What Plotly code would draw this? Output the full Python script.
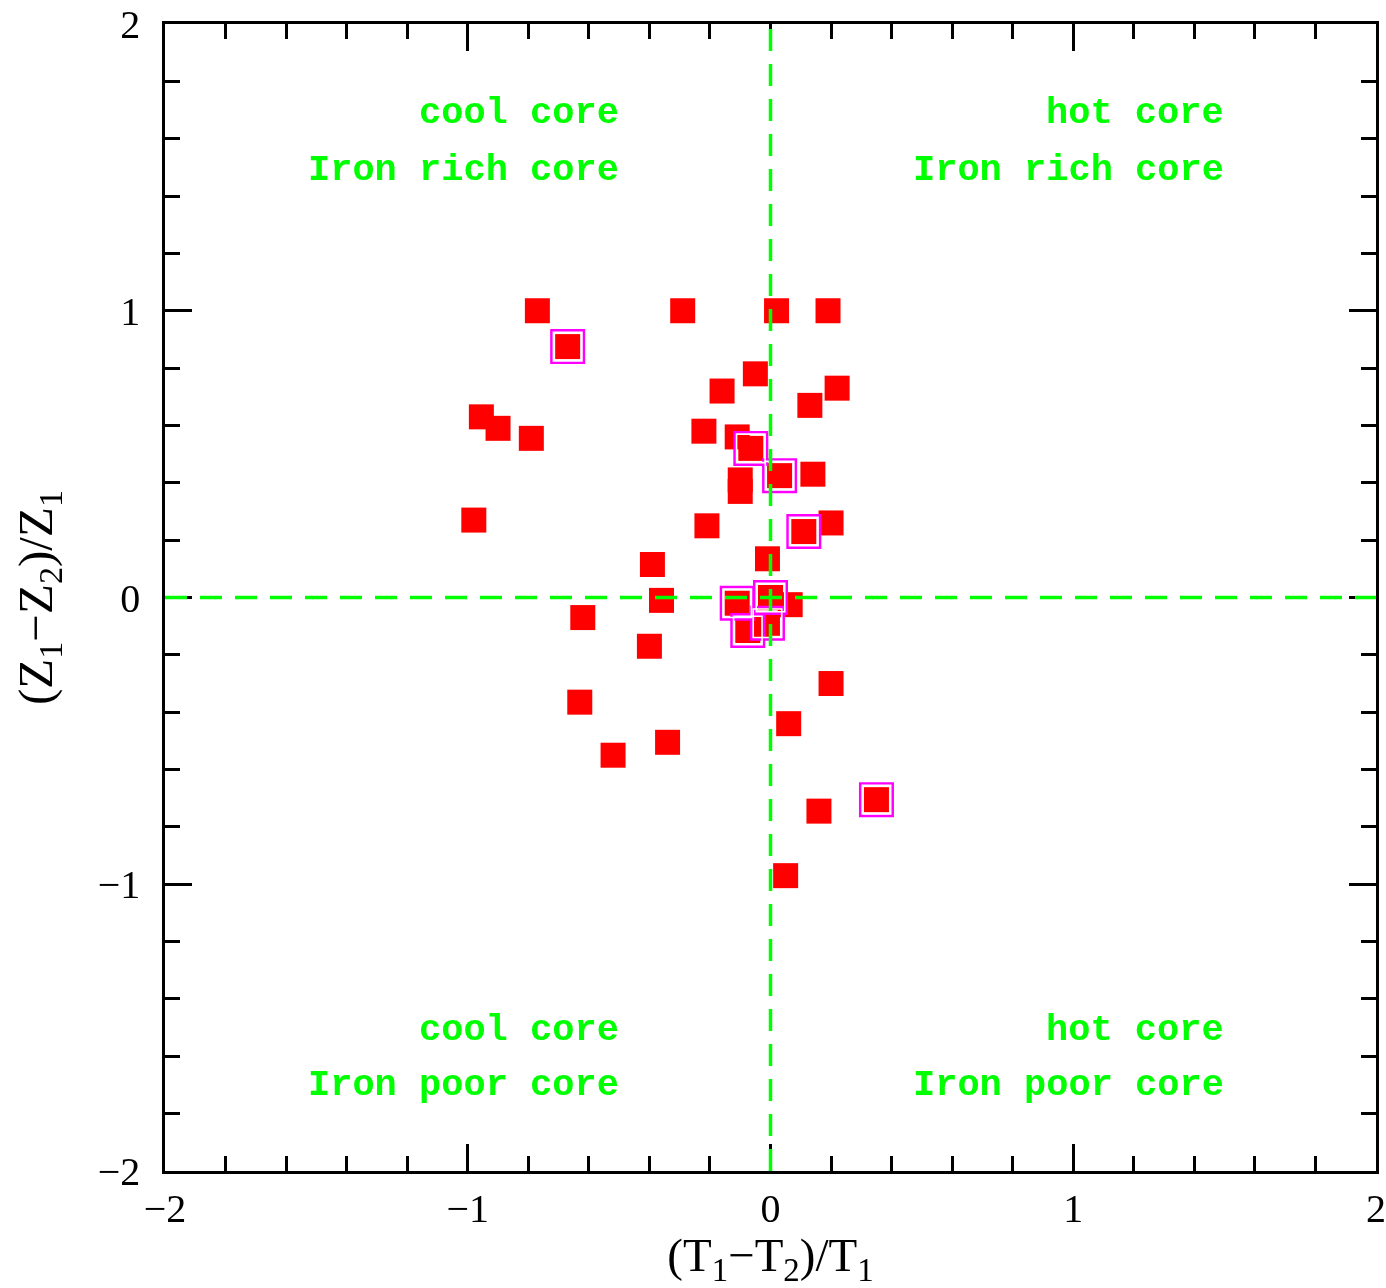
import plotly.graph_objects as go

# ---- data ----
red_x = [-0.77, -0.29, 0.02, 0.19, -0.67, -0.05, -0.16, 0.22, 0.13, -0.955,
         -0.90, -0.79, -0.22, -0.11, -0.065, 0.03, 0.14, -0.10, -0.10, -0.98,
         -0.21, 0.11, 0.20, -0.01, -0.39, -0.36, -0.62, -0.40, -0.63, -0.52,
         -0.34, 0.20, 0.06, 0.16, 0.35, 0.05, 0.0, -0.11, 0.065, -0.075,
         -0.04, -0.01]
red_y = [1.00, 1.00, 1.00, 1.00, 0.875, 0.78, 0.72, 0.73, 0.67, 0.63,
         0.59, 0.555, 0.58, 0.56, 0.52, 0.425, 0.43, 0.41, 0.37, 0.27,
         0.25, 0.23, 0.26, 0.135, 0.115, -0.01, -0.07, -0.17, -0.365, -0.55,
         -0.505, -0.30, -0.44, -0.745, -0.705, -0.97, 0.0, -0.02, -0.025, -0.115,
         -0.10, -0.09]

mag_x = [-0.67, -0.065, 0.03, 0.11, 0.0, -0.11, -0.075, -0.01, 0.35]
mag_y = [0.875, 0.52, 0.425, 0.23, 0.0, -0.02, -0.115, -0.09, -0.705]

axis_ticks = [-2, -1, 0, 1, 2]
quad_top_left = ["cool core", "Iron rich core"]
quad_top_right = ["hot core", "Iron rich core"]
quad_bot_left = ["cool core", "Iron poor core"]
quad_bot_right = ["hot core", "Iron poor core"]
x_title = "(T<sub>1</sub>\u2212T<sub>2</sub>)/T<sub>1</sub>"
y_title = "(Z<sub>1</sub>\u2212Z<sub>2</sub>)/Z<sub>1</sub>"

GREEN = "#00ff00"
SERIF = "Liberation Serif, Times New Roman, serif"
MONO = "Liberation Mono, Courier New, monospace"

fig = go.Figure()
fig.add_trace(go.Scatter(x=red_x, y=red_y, mode="markers",
                         marker=dict(symbol="square", size=25, color="#ff0000",
                                     line=dict(width=0)),
                         hoverinfo="skip", showlegend=False))
fig.add_trace(go.Scatter(x=mag_x, y=mag_y, mode="markers",
                         marker=dict(symbol="square-open", size=32,
                                     color="#ff00ff", line=dict(width=3, color="#ff00ff")),
                         hoverinfo="skip", showlegend=False))
fig.add_trace(go.Scatter(x=mag_x, y=mag_y, mode="markers",
                         marker=dict(symbol="square-open", size=28.5,
                                     color="#ffffff", line=dict(width=1.6, color="#ffffff")),
                         hoverinfo="skip", showlegend=False))

# reference dashed lines
fig.add_shape(type="line", xref="x", yref="paper", x0=0, x1=0, y0=0, y1=1,
              line=dict(color=GREEN, width=3.5, dash="22px,13px"), layer="above")
fig.add_shape(type="line", xref="paper", yref="y", x0=0, x1=1, y0=0, y1=0,
              line=dict(color=GREEN, width=3.5, dash="22px,13px"), layer="above")

def add_quad(lines, x, y_top, y_bot):
    fig.add_annotation(x=x, y=y_top, xref="x", yref="y", text=lines[0],
                       showarrow=False, xanchor="right", yanchor="middle",
                       font=dict(family=MONO, size=37, color=GREEN, weight="bold"))
    fig.add_annotation(x=x, y=y_bot, xref="x", yref="y", text=lines[1],
                       showarrow=False, xanchor="right", yanchor="middle",
                       font=dict(family=MONO, size=37, color=GREEN, weight="bold"))

add_quad(quad_top_left, -0.495, 1.69, 1.49)
add_quad(quad_top_right, 1.505, 1.69, 1.49)
add_quad(quad_bot_left, -0.495, -1.51, -1.70)
add_quad(quad_bot_right, 1.505, -1.51, -1.70)

axis_common = dict(
    showgrid=False, zeroline=False, showline=True, linecolor="black", linewidth=2.5,
    mirror="allticks", ticks="inside", ticklen=27, tickwidth=2.5, tickcolor="black",
    tickvals=axis_ticks, ticktext=[str(v).replace("-", "\u2212") for v in axis_ticks],
    tickfont=dict(family=SERIF, size=40, color="black"),
    minor=dict(ticks="inside", dtick=0.2, ticklen=15, tickwidth=2.5, tickcolor="black",
               showgrid=False),
    automargin=False,
)

fig.update_xaxes(range=[-2, 2], **axis_common, ticklabelstandoff=0,
                 title=dict(text=x_title, font=dict(family=SERIF, size=47, color="black"),
                            standoff=14))
fig.update_yaxes(range=[-2, 2], **axis_common, ticklabelstandoff=14,
                 title=dict(text=y_title, font=dict(family=SERIF, size=49, color="black"),
                            standoff=30))

fig.update_layout(width=1386, height=1288,
                  margin=dict(l=165, r=10, t=24, b=117, autoexpand=False),
                  paper_bgcolor="white", plot_bgcolor="white", showlegend=False)

post = """
var st = document.createElement('style');
st.innerHTML = '.shapelayer path { mix-blend-mode: multiply !important; }';
document.head.appendChild(st);
"""
fig.write_html("out.html", post_script=post)
